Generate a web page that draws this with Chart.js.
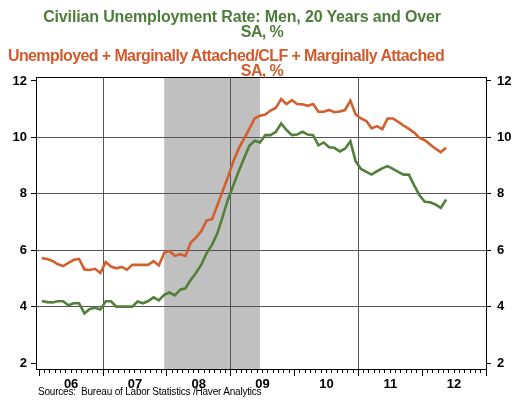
<!DOCTYPE html>
<html>
<head>
<meta charset="utf-8">
<script src="https://cdn.jsdelivr.net/npm/chart.js@4.4.1/dist/chart.umd.min.js"></script>
<style>
  body { margin: 0; background: #fff; }
  #wrap { position: relative; width: 516px; height: 402px; }
  #c { position: absolute; left: 0; top: 0; }
  .t { position: absolute; font-family: "Liberation Sans", Arial, sans-serif; font-weight: bold;
       font-size: 16px; line-height: 16px; white-space: nowrap; transform: translateX(-50%); }
  .g { color: #4d7d3b; }
  .o { color: #d15b2c; }
  .src { position: absolute; left: 38px; top: 386px; font-family: "Liberation Sans", Arial, sans-serif;
         font-size: 10px; line-height: 11px; letter-spacing: -0.2px; white-space: nowrap; color: #000; }
</style>
</head>
<body>
<div id="wrap">
  <canvas id="c" width="516" height="402"></canvas>
  <div class="t g" style="left:242px; top:9px; letter-spacing:-0.15px">Civilian Unemployment Rate: Men, 20 Years and Over</div>
  <div class="t g" style="left:262px; top:24px; letter-spacing:-0.6px">SA, %</div>
  <div class="t o" style="left:226px; top:48px; letter-spacing:-0.6px">Unemployed + Marginally Attached/CLF + Marginally Attached</div>
  <div class="t o" style="left:262px; top:63px; letter-spacing:-0.6px">SA, %</div>
  <div class="src">Sources:&nbsp; Bureau of Labor Statistics /Haver Analytics</div>
</div>
<script>
// monthly, Jan 2006 .. May 2012
const menRate = [
  4.20, 4.16, 4.15, 4.19, 4.19, 4.05, 4.12, 4.12, 3.76, 3.92, 3.96, 3.90,
  4.19, 4.19, 4.00, 4.00, 4.00, 4.00, 4.18, 4.12, 4.20, 4.33, 4.22, 4.42,
  4.50, 4.40, 4.60, 4.65, 4.95, 5.20, 5.50, 5.90, 6.20, 6.60, 7.20, 7.80,
  8.30, 8.80, 9.25, 9.70, 9.88, 9.82, 10.08, 10.08, 10.20, 10.49, 10.26, 10.08,
  10.10, 10.20, 10.10, 10.08, 9.72, 9.82, 9.65, 9.63, 9.50, 9.60, 9.86, 9.15,
  8.88, 8.78, 8.68, 8.80, 8.90, 8.98, 8.88, 8.78, 8.68, 8.68, 8.30, 7.95,
  7.72, 7.70, 7.62, 7.50, 7.80
];
const marginalRate = [
  5.72, 5.69, 5.62, 5.50, 5.44, 5.55, 5.66, 5.69, 5.32, 5.30, 5.34, 5.19,
  5.58, 5.42, 5.36, 5.41, 5.31, 5.48, 5.48, 5.48, 5.48, 5.61, 5.46, 5.91,
  5.97, 5.80, 5.86, 5.80, 6.27, 6.45, 6.69, 7.06, 7.10, 7.60, 8.10, 8.60,
  9.15, 9.60, 9.95, 10.30, 10.67, 10.77, 10.81, 10.95, 11.05, 11.36, 11.18, 11.32,
  11.18, 11.17, 11.12, 11.18, 10.91, 10.91, 10.97, 10.89, 10.92, 10.97, 11.30, 10.81,
  10.67, 10.58, 10.32, 10.40, 10.29, 10.67, 10.67, 10.55, 10.42, 10.30, 10.17, 9.98,
  9.90, 9.75, 9.60, 9.48, 9.63
];
const yearLabels = ['06', '07', '08', '09', '10', '11', '12'];
const yTicks = [2, 4, 6, 8, 10, 12];
const yGrid = [4, 6, 8, 10];
const xGridMonths = [12, 36, 60];          // Jan 07, Jan 09, Jan 11
const recessionMonths = [23, 41];          // Dec 07 .. Jun 09

const FONT = 'Liberation Sans';
const GREEN = '#52803a';
const ORANGE = '#d2602f';
const CLEAR = 'rgba(0,0,0,0)';

const monthTicks = [];
for (let i = 0; i <= 84; i++) monthTicks.push({ value: i });
const yearEdges = [];
for (let i = 0; i <= 7; i++) yearEdges.push({ value: i * 12 });

const toPoints = arr => arr.map((v, i) => ({ x: i + 0.5, y: v }));

const recessionBand = {
  id: 'recessionBand',
  beforeDraw(chart) {
    const { ctx, chartArea, scales } = chart;
    const x0 = scales.x.getPixelForValue(recessionMonths[0] + 0.5);
    const x1 = scales.x.getPixelForValue(recessionMonths[1] + 0.5);
    ctx.save();
    ctx.fillStyle = '#c0c0c0';
    ctx.fillRect(x0, chartArea.top, x1 - x0, chartArea.bottom - chartArea.top);
    ctx.restore();
  }
};

const yAxis = (pos, width, pad, onArea) => ({
  type: 'linear',
  position: pos,
  min: 1.79,
  max: 12.14,
  afterBuildTicks: s => { s.ticks = yTicks.map(v => ({ value: v })); },
  afterFit: s => { s.width = width; },
  ticks: { color: '#000', padding: pad, font: { family: FONT, size: 13, weight: 'bold' } },
  grid: {
    drawOnChartArea: onArea,
    tickLength: 5,
    tickColor: '#000',
    color: c => yGrid.includes(c.tick && c.tick.value) ? '#555' : CLEAR
  },
  border: { color: '#000', width: 1 }
});

new Chart(document.getElementById('c'), {
  type: 'line',
  data: {
    datasets: [
      { label: 'Men 20+', data: toPoints(menRate), borderColor: GREEN, borderWidth: 2.6, pointRadius: 0, tension: 0 },
      { label: 'U+MA', data: toPoints(marginalRate), borderColor: ORANGE, borderWidth: 2.6, pointRadius: 0, tension: 0 }
    ]
  },
  options: {
    responsive: false,
    animation: false,
    layout: { padding: { top: 77, left: 0, right: 0, bottom: 0 } },
    plugins: { legend: { display: false }, tooltip: { enabled: false } },
    scales: {
      x: {
        type: 'linear',
        position: 'bottom',
        weight: 1,
        min: -0.6,
        max: 84,
        afterBuildTicks: s => { s.ticks = monthTicks.slice(); },
        afterFit: s => { s.height = 33; },
        ticks: {
          autoSkip: false,
          maxRotation: 0,
          padding: 4,
          color: '#000',
          font: { family: FONT, size: 13, weight: 'bold' },
          callback: v => (v % 12 === 6) ? yearLabels[(v - 6) / 12] : ''
        },
        grid: {
          tickLength: 4,
          tickColor: '#000',
          color: c => xGridMonths.includes(c.tick && c.tick.value) ? '#555' : CLEAR
        },
        border: { color: '#000', width: 1 }
      },
      xMajor: {
        type: 'linear',
        position: 'bottom',
        weight: 0,
        min: -0.6,
        max: 84,
        afterBuildTicks: s => { s.ticks = yearEdges.slice(); },
        afterFit: s => { s.height = 0; },
        ticks: { display: false },
        grid: { drawOnChartArea: false, tickLength: 7, tickColor: '#000' },
        border: { display: false }
      },
      xTop: {
        type: 'linear',
        position: 'top',
        min: -0.6,
        max: 84,
        afterFit: s => { s.height = 0; },
        ticks: { display: false },
        grid: { display: false },
        border: { color: '#000', width: 1 }
      },
      y: yAxis('left', 36, 4, true),
      y2: yAxis('right', 30, 6, false)
    }
  },
  plugins: [recessionBand]
});
</script>
</body>
</html>
